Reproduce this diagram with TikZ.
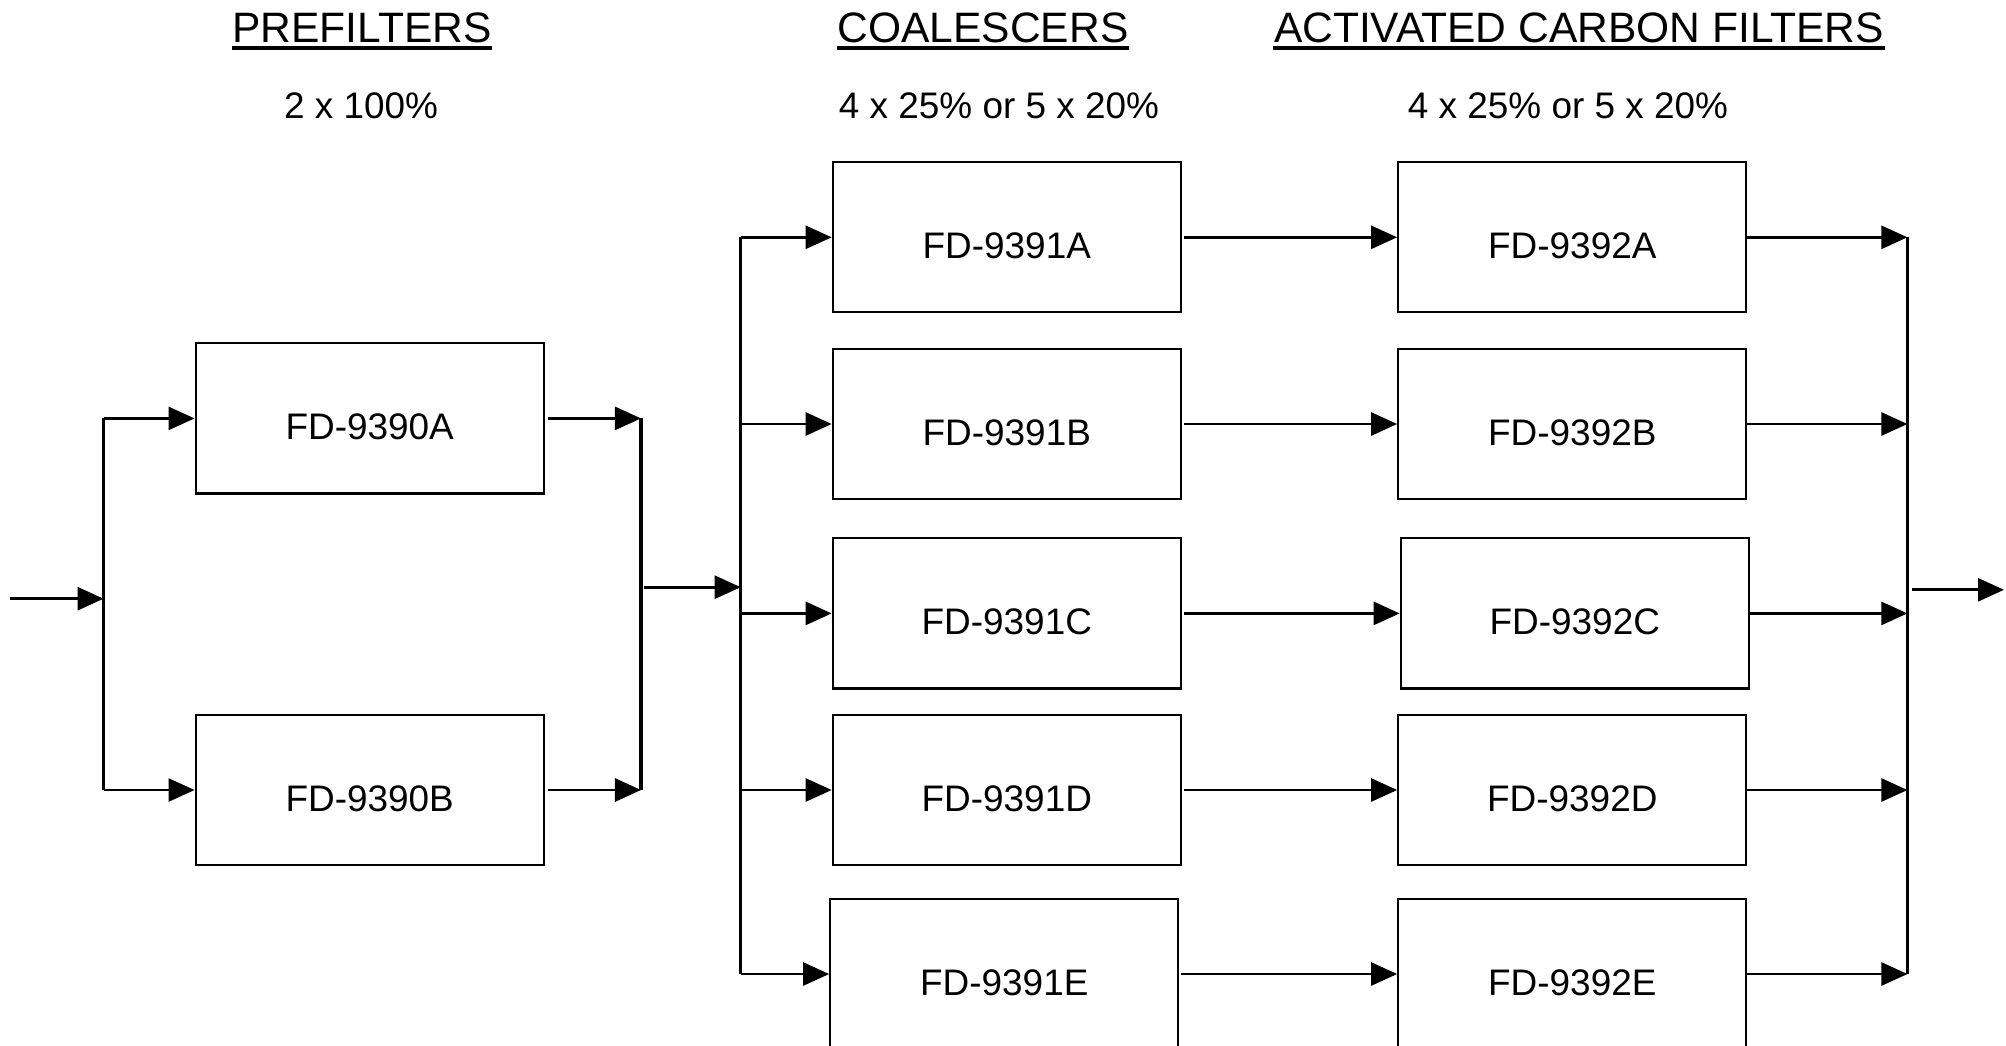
\documentclass[tikz,border=0pt]{standalone}
\usepackage{fontspec}
\setmainfont{Liberation Sans}
\usetikzlibrary{arrows.meta}

\begin{document}
\begin{tikzpicture}[x=0.01cm, y=0.01cm]
    \tikzstyle{box}=[draw, rectangle, line width=0.6pt, minimum width=3.48cm, minimum height=1.5cm, inner sep=0pt, text height=4.2mm, text depth=0pt, font=\fontsize{10.5}{12}\selectfont]
    \tikzstyle{flow}=[line width=0.75pt, -{Triangle[length=2.6mm, width=2.3mm]}]
    \tikzstyle{bus}=[line width=1pt]
    \tikzstyle{heading}=[anchor=base, inner sep=0pt, font=\fontsize{12.1}{14}\selectfont]
    \tikzstyle{rating}=[anchor=base, inner sep=0pt, font=\fontsize{10.5}{12}\selectfont]

    \clip (0,0) rectangle (2006,-1045);

% The headings over the three stages, each one underlined.

    \node[heading] (hPre) at (362,-42) {PREFILTERS};
    \node[heading] (hCoa) at (983,-42) {COALESCERS};
    \node[heading] (hAcf) at (1579,-42) {ACTIVATED CARBON FILTERS};
    \foreach \h in {hPre, hCoa, hAcf} \draw[line width=1pt] ([yshift=-0.6mm]\h.base west) -- ([yshift=-0.6mm]\h.base east);

    \node[rating] (rPre) at (361,-118) {2 x 100\%};
    \node[rating] (rCoa) at (999,-118) {4 x 25\% or 5 x 20\%};
    \node[rating] (rAcf) at (1568,-118) {4 x 25\% or 5 x 20\%};

    \node[box] (pfA) at (369.7,-418.4) {FD-9390A};
    \node[box] (pfB) at (369.7,-790) {FD-9390B};

    \node[box] (coA) at (1006.8,-237.3) {FD-9391A};
    \node[box] (coB) at (1006.8,-424) {FD-9391B};
    \node[box] (coC) at (1006.8,-613.4) {FD-9391C};
    \node[box] (coD) at (1006.8,-790) {FD-9391D};
    \node[box] (coE) at (1004.3,-974) {FD-9391E};

    \node[box] (acA) at (1572.3,-237.3) {FD-9392A};
    \node[box] (acB) at (1572.3,-424) {FD-9392B};
    \node[box] (acC) at (1574.8,-613.4) {FD-9392C};
    \node[box] (acD) at (1572.3,-790) {FD-9392D};
    \node[box] (acE) at (1572.3,-974) {FD-9392E};

    \coordinate (in) at (10,-598.7);
    \coordinate (pfIn) at (103.6,-598.7);
    \coordinate (pfOut) at (641,-587.2);
    \coordinate (coIn) at (740.7,-587.2);
    \coordinate (acOut) at (1907.4,-589.8);
    \coordinate (out) at (2004,-589.8);

% Prefilters: split, pass and join again.

    \draw[flow] (in) -- (pfIn);
    \draw[bus] (pfA.west -| pfIn) -- (pfB.west -| pfIn);
    \draw[bus] (pfA.east -| pfOut) -- (pfB.east -| pfOut);
    \foreach \b in {pfA, pfB} {
        \draw[flow] (\b.west -| pfIn) -- (\b.west);
        \draw[flow] ([xshift=0.3mm]\b.east) -- (\b.east -| pfOut);
    }
    \draw[flow] ([xshift=0.3mm]pfOut) -- (coIn);

% Coalescers and carbon filters in five parallel trains.

    \draw[bus] (coA.west -| coIn) -- (coE.west -| coIn);
    \draw[bus] (acA.east -| acOut) -- (acE.east -| acOut);
    \foreach \b in {A, B, C, D, E} {
        \draw[flow] (co\b.west -| coIn) -- (co\b.west);
        \draw[flow] ([xshift=0.2mm]co\b.east) -- (ac\b.west);
        \draw[flow] (ac\b.east) -- (ac\b.east -| acOut);
    }
    \draw[flow] ([xshift=0.5mm]acOut) -- (out);

\end{tikzpicture}
\end{document}
